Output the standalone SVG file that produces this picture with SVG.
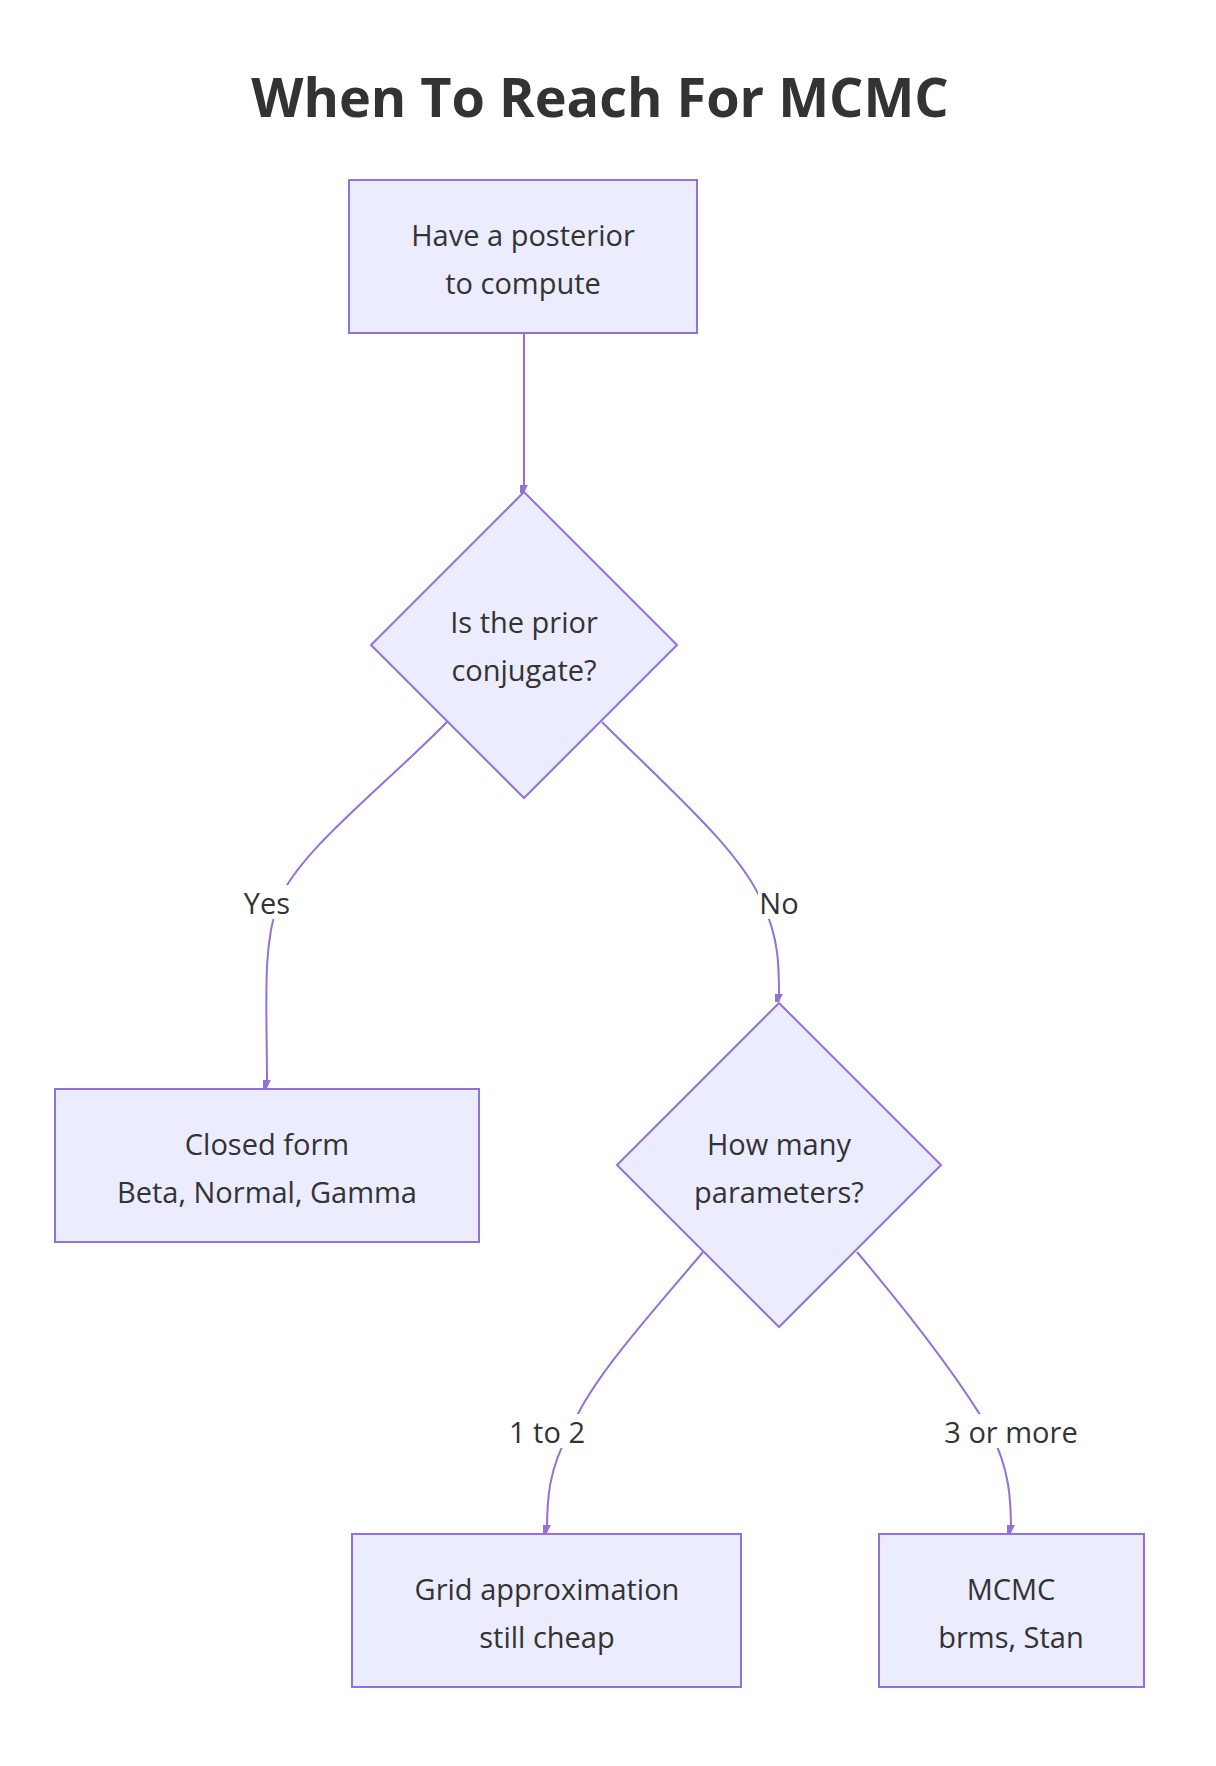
<svg xmlns="http://www.w3.org/2000/svg" width="1216" height="1766" viewBox="0 0 1216 1766">
<style>
.n{fill:#ECECFF;stroke:#9370DB;stroke-width:2}
.t{font-family:"Open Sans","Liberation Sans",sans-serif;font-size:29px;fill:#333;text-anchor:middle;dominant-baseline:central}
.e{fill:none;stroke:#9370DB;stroke-width:2;marker-end:url(#a)}
.lb{fill:#fff}
</style>
<defs><marker id="a" viewBox="0 0 10 10" refX="9" refY="5" markerWidth="8" markerHeight="8" orient="auto" markerUnits="userSpaceOnUse"><path d="M0,0L10,5L0,10z" fill="#9370DB" transform="scale(1.6)"/></marker></defs>
<rect width="1216" height="1766" fill="#fff"/>
<text x="600" y="96" class="t" style="font-size:54px;font-weight:bold">When To Reach For MCMC</text>
<g id="edges">
<path class="e" d="M524,333L524,492"/>
<path class="e" d="M447,722C380,790 300,850 278,902C262,950 267,1000 267,1087"/>
<path class="e" d="M602,722C670,790 740,850 762,902C780,940 779,970 779,1001"/>
<path class="e" d="M703,1252C650,1315 590,1380 570,1431C548,1470 547,1500 547,1532"/>
<path class="e" d="M857,1252C910,1315 960,1380 990,1431C1010,1470 1011,1500 1011,1532"/>
<rect class="lb" x="242" y="885" width="50" height="34"/><text class="t" x="267" y="902">Yes</text>
<rect class="lb" x="758" y="885" width="42" height="34"/><text class="t" x="779" y="902">No</text>
<rect class="lb" x="505" y="1414" width="84" height="34"/><text class="t" x="547" y="1431">1 to 2</text>
<rect class="lb" x="940" y="1414" width="142" height="34"/><text class="t" x="1011" y="1431">3 or more</text>
</g>
<g id="n1"><rect class="n" x="349" y="180" width="348" height="153"/><text class="t" x="523" y="234">Have a posterior</text><text class="t" x="523" y="282">to compute</text></g>
<g id="n2"><path class="n" d="M524,492L677,645L524,798L371,645Z"/><text class="t" x="524" y="621">Is the prior</text><text class="t" x="524" y="669">conjugate?</text></g>
<g id="n3"><rect class="n" x="55" y="1089" width="424" height="153"/><text class="t" x="267" y="1143">Closed form</text><text class="t" x="267" y="1191">Beta, Normal, Gamma</text></g>
<g id="n4"><path class="n" d="M779,1003L941,1165L779,1327L617,1165Z"/><text class="t" x="779" y="1143">How many</text><text class="t" x="779" y="1191">parameters?</text></g>
<g id="n5"><rect class="n" x="352" y="1534" width="389" height="153"/><text class="t" x="547" y="1588">Grid approximation</text><text class="t" x="547" y="1636">still cheap</text></g>
<g id="n6"><rect class="n" x="879" y="1534" width="265" height="153"/><text class="t" x="1011" y="1588">MCMC</text><text class="t" x="1011" y="1636">brms, Stan</text></g>
</svg>
